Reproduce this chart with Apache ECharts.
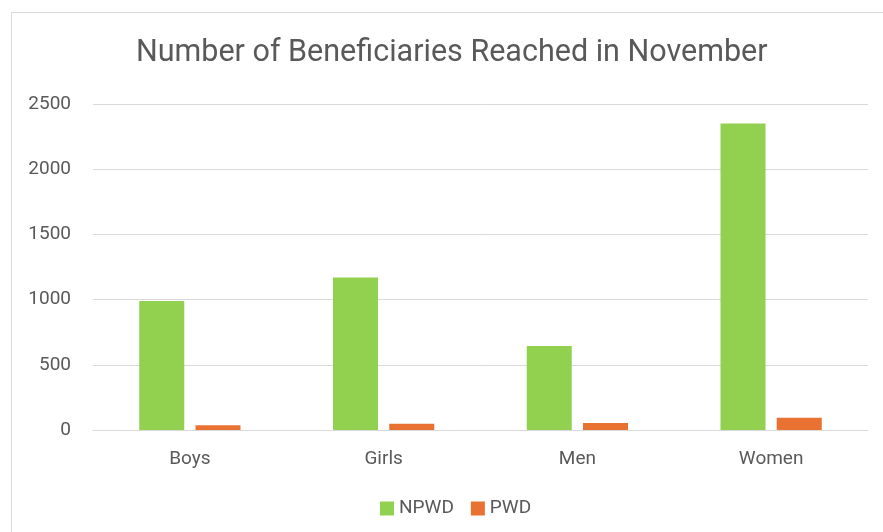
<!DOCTYPE html>
<html>
<head>
<meta charset="utf-8">
<script src="https://cdn.jsdelivr.net/npm/echarts@6/dist/echarts.min.js"></script>
<style>
  html, body { margin: 0; padding: 0; background: #fff; }
  #chart { width: 883px; height: 532px; }
</style>
</head>
<body>
<div id="chart"></div>
<script>
// data
const categories = ['Boys', 'Girls', 'Men', 'Women'];
const npwdData = [990, 1170, 645, 2350];
const pwdData = [36, 48, 54, 94];
const yTicks = [0, 500, 1000, 1500, 2000, 2500];

const chart = echarts.init(document.getElementById('chart'));
const textFont = 'Roboto, "Noto Sans", sans-serif';

const option = {
  animation: false,
  backgroundColor: '#fff',
  //外框
  graphic: [{
    type: 'rect',
    shape: { x: 11.5, y: 12.5, width: 900, height: 600 },
    style: { fill: 'none', stroke: '#d9d9d9', lineWidth: 1 },
    silent: true
  }],
  title: {
    text: 'Number of Beneficiaries Reached in November',
    left: 136,
    top: 38,
    padding: 0,
    textStyle: {
      color: '#595959',
      fontSize: 30.5,
      fontWeight: 'normal',
      fontFamily: textFont
    }
  },
  legend: {
    data: ['NPWD', 'PWD'],
    left: 380,
    top: 499,
    padding: 0,
    icon: 'rect',
    itemWidth: 14,
    itemHeight: 14,
    itemGap: 17,
    textStyle: {
      color: '#595959',
      fontSize: 19,
      fontFamily: textFont
    }
  },
  grid: {
    left: 93,
    right: 15,
    top: 104,
    bottom: 102,
    containLabel: false
  },
  xAxis: {
    type: 'category',
    data: categories,
    axisTick: { show: false },
    axisLine: { show: true, lineStyle: { color: '#d9d9d9', width: 1 } },
    axisLabel: {
      color: '#595959',
      fontSize: 19,
      fontFamily: textFont,
      margin: 20
    }
  },
  yAxis: {
    type: 'value',
    min: yTicks[0],
    max: yTicks[yTicks.length - 1],
    interval: yTicks[1] - yTicks[0],
    axisTick: { show: false },
    axisLine: { show: false },
    axisLabel: {
      color: '#595959',
      fontSize: 19,
      fontFamily: textFont,
      margin: 22,
      formatter: function (v) { return String(v); }
    },
    splitLine: { show: true, lineStyle: { color: '#d9d9d9', width: 1 } }
  },
  series: [
    {
      name: 'NPWD',
      type: 'bar',
      data: npwdData,
      barWidth: 45,
      barGap: '25%',
      itemStyle: { color: '#92d050' }
    },
    {
      name: 'PWD',
      type: 'bar',
      data: pwdData,
      barWidth: 45,
      itemStyle: { color: '#e97132' }
    }
  ]
};
chart.setOption(option);
</script>
</body>
</html>
